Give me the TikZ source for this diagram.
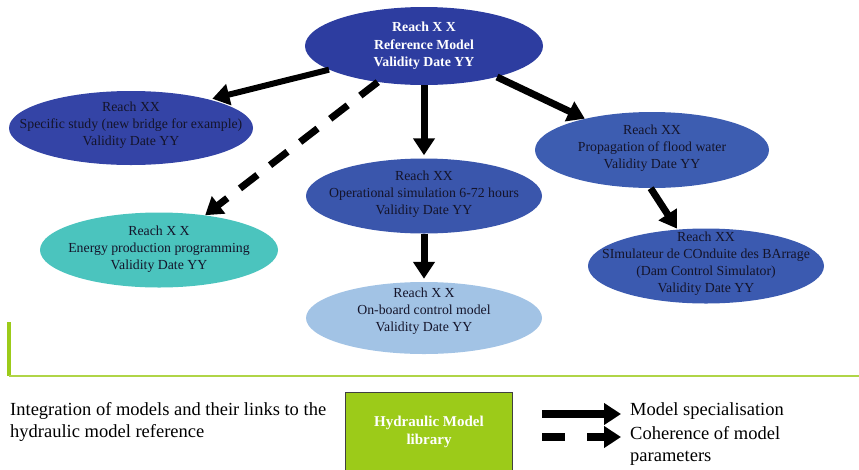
\documentclass[tikz,border=0pt]{standalone}
\usepackage{fontspec}
\setmainfont{Liberation Serif}
\usetikzlibrary{shapes.geometric,arrows.meta}

\definecolor{refblue}{HTML}{2D3DA0}
\definecolor{specblue}{HTML}{3444A6}
\definecolor{propblue}{HTML}{3D5DB1}
\definecolor{opblue}{HTML}{3A56AC}
\definecolor{simblue}{HTML}{3B5AB0}
\definecolor{energyteal}{HTML}{4BC4BE}
\definecolor{onboardblue}{HTML}{A2C3E5}
\definecolor{libgreen}{HTML}{9CCB19}
\definecolor{boxgray}{HTML}{404040}
\definecolor{txtdark}{HTML}{14142A}

\begin{document}
\begin{tikzpicture}[x=1pt,y=-1pt,
  model/.style={ellipse, inner sep=0pt, minimum width=236pt, minimum height=75pt},
  modeltext/.style={align=center, inner sep=0pt, text=txtdark,
    font=\fontsize{13.8}{17}\selectfont},
  specarrow/.style={line width=7pt, -{Triangle[length=17pt,width=21pt]}},
  coherarrow/.style={specarrow, dash pattern=on 22pt off 16pt},
  legendtext/.style={align=left, inner sep=0pt, font=\fontsize{18.5}{22}\selectfont},
]
\useasboundingbox (0,0) rectangle (859,469);

% model ellipses (shapes sized explicitly, texts set on top)
\node[model, fill=refblue, minimum width=238pt, minimum height=78pt] (ref) at (424,46) {};
\node[model, fill=specblue, minimum width=244pt, minimum height=74pt] (spec) at (131,128) {};
\node[model, fill=propblue, minimum width=234pt, minimum height=76pt] (prop) at (652,150) {};
\node[model, fill=opblue] (op) at (424,196) {};
\node[model, fill=energyteal, minimum width=238pt] (energy) at (159,250) {};
\node[model, fill=simblue] (sim) at (706,266) {};
\node[model, fill=onboardblue, minimum height=72pt] (onb) at (424,318) {};

\node[modeltext, text=white, font=\bfseries\fontsize{13.8}{17.5}\selectfont]
  (ref-t) at (424,46) {Reach X X\\Reference Model\\Validity Date YY};
\node[modeltext] (spec-t) at (131,125)
  {Reach XX\\Specific study (new bridge for example)\\Validity Date YY};
\node[modeltext] (prop-t) at (652,148)
  {Reach XX\\Propagation of flood water\\Validity Date YY};
\node[modeltext] (op-t) at (424,194)
  {Reach XX\\Operational simulation 6-72 hours\\Validity Date YY};
\node[modeltext] (energy-t) at (159,249)
  {Reach X X\\Energy production programming\\Validity Date YY};
\node[modeltext] (sim-t) at (706,264)
  {Reach XX\\SImulateur de COnduite des BArrage\\(Dam Control Simulator)\\Validity Date YY};
\node[modeltext] (onb-t) at (424,311)
  {Reach X X\\On-board control model\\Validity Date YY};

% links between models
\draw[specarrow, line width=6pt, shorten >=3pt] (ref.194) -- (spec.20);
\draw[coherarrow] (ref.218) -- (energy.37);
\draw[specarrow, shorten >=3pt] (ref.270) -- (op.90);
\draw[specarrow] (ref.-23) -- (prop.155);
\draw[specarrow, shorten >=1pt] (prop.268) -- (sim.128);
\draw[specarrow, shorten >=3pt] (op.270) -- (onb.90);

% green bracket
\coordinate (brtop) at (9,322);
\coordinate (brcorner) at (9,376);
\coordinate (brend) at (859,376);
\draw[libgreen, line width=4pt] (brtop) -- (brcorner);
\draw[libgreen!80, line width=1.5pt] (brcorner) -- (brend);

% caption and library box
\node[legendtext, anchor=west] (caption) at (10,422)
  {Integration of models and their links to the\\hydraulic model reference};
\node[draw=boxgray, line width=1pt, fill=libgreen, anchor=north west,
      minimum width=167pt, minimum height=78pt, align=center, text=white,
      font=\bfseries\fontsize{15}{18}\selectfont]
  (lib) at (345,392) {Hydraulic Model\\library};

% legend
\coordinate (solidA) at (542,414);
\coordinate (solidB) at (621,414);
\coordinate (dashA) at (542,437);
\coordinate (dashB) at (621,437);
\draw[specarrow, line width=8pt] (solidA) -- (solidB);
\draw[specarrow, line width=8pt, dash pattern=on 23pt off 22pt] (dashA) -- (dashB);
\node[legendtext, anchor=west] (lspec) at (630,411) {Model specialisation};
\node[legendtext, anchor=north west] (lcoh) at (630,426)
  {Coherence of model\\parameters};
\end{tikzpicture}
\end{document}
